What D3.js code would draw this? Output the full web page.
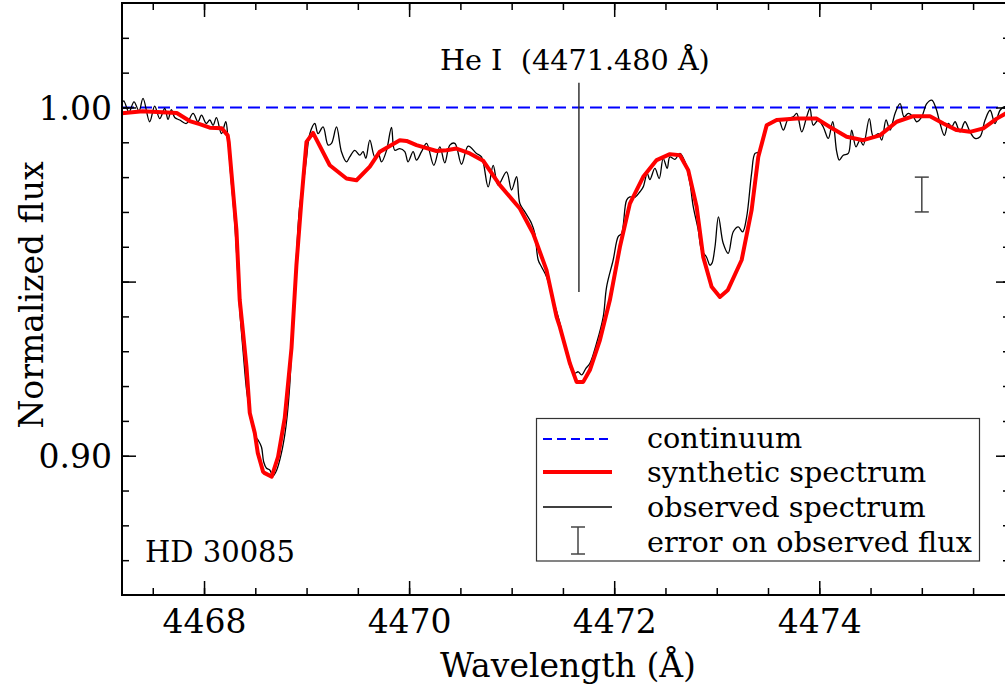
<!DOCTYPE html>
<html>
<head>
<meta charset="utf-8">
<script src="https://cdn.jsdelivr.net/npm/d3@7"></script>
<style>
  html, body { margin: 0; padding: 0; background: #fff; }
  svg { display: block; font-family: "DejaVu Serif", serif; }
</style>
</head>
<body>
<svg id="chart" width="1005" height="690"></svg>
<script>
// ---------------- DATA ----------------
const synWavelength = [4467.197,4467.402,4467.734,4467.860,4467.958,4468.056,4468.173,4468.231,4468.241,4468.316,4468.348,4468.378,4468.414,4468.446,4468.495,4468.524,4468.576,4468.592,4468.660,4468.722,4468.787,4468.853,4468.901,4468.950,4468.999,4469.063,4469.226,4469.389,4469.487,4469.617,4469.714,4469.909,4469.975,4470.072,4470.267,4470.365,4470.462,4470.592,4470.722,4470.885,4471.080,4471.210,4471.340,4471.438,4471.470,4471.568,4471.633,4471.698,4471.763,4471.861,4471.958,4472.056,4472.153,4472.283,4472.414,4472.543,4472.641,4472.722,4472.804,4472.868,4472.950,4473.031,4473.109,4473.243,4473.340,4473.405,4473.487,4473.584,4473.780,4473.975,4474.104,4474.267,4474.429,4474.591,4474.755,4474.917,4475.080,4475.210,4475.340,4475.470,4475.600,4475.731,4475.860];
const synFlux = [0.9983,0.9989,0.9984,0.9961,0.9952,0.9942,0.9940,0.9920,0.9901,0.9648,0.9447,0.9361,0.9255,0.9123,0.9065,0.9008,0.8954,0.8950,0.8940,0.8997,0.9108,0.9309,0.9547,0.9734,0.9901,0.9927,0.9834,0.9796,0.9791,0.9830,0.9873,0.9906,0.9904,0.9892,0.9875,0.9877,0.9882,0.9868,0.9847,0.9777,0.9710,0.9638,0.9533,0.9399,0.9370,0.9265,0.9212,0.9212,0.9246,0.9332,0.9447,0.9600,0.9724,0.9801,0.9849,0.9866,0.9863,0.9820,0.9715,0.9571,0.9485,0.9456,0.9476,0.9562,0.9705,0.9858,0.9949,0.9964,0.9968,0.9968,0.9944,0.9916,0.9906,0.9920,0.9959,0.9975,0.9975,0.9954,0.9935,0.9930,0.9940,0.9968,0.9990];

const obsWavelength = [4467.197,4467.217,4467.268,4467.317,4467.366,4467.405,4467.470,4467.519,4467.568,4467.617,4467.649,4467.682,4467.714,4467.763,4467.828,4467.893,4467.941,4467.975,4468.023,4468.056,4468.088,4468.121,4468.170,4468.212,4468.234,4468.260,4468.290,4468.319,4468.348,4468.380,4468.417,4468.446,4468.478,4468.504,4468.527,4468.560,4468.582,4468.609,4468.641,4468.673,4468.709,4468.755,4468.787,4468.810,4468.836,4468.856,4468.880,4468.904,4468.934,4468.966,4468.997,4469.032,4469.080,4469.112,4469.161,4469.210,4469.243,4469.292,4469.340,4469.389,4469.421,4469.470,4469.519,4469.551,4469.578,4469.617,4469.665,4469.698,4469.731,4469.780,4469.828,4469.860,4469.909,4469.958,4469.990,4470.039,4470.072,4470.121,4470.170,4470.241,4470.300,4470.348,4470.397,4470.446,4470.511,4470.576,4470.657,4470.706,4470.771,4470.820,4470.868,4470.950,4470.999,4471.048,4471.080,4471.129,4471.194,4471.226,4471.259,4471.292,4471.340,4471.405,4471.470,4471.536,4471.584,4471.617,4471.649,4471.682,4471.724,4471.763,4471.828,4471.893,4471.926,4471.990,4472.039,4472.072,4472.121,4472.153,4472.202,4472.251,4472.283,4472.322,4472.348,4472.397,4472.439,4472.478,4472.517,4472.543,4472.592,4472.641,4472.690,4472.739,4472.771,4472.820,4472.853,4472.901,4472.934,4472.954,4472.983,4473.017,4473.063,4473.112,4473.161,4473.210,4473.253,4473.292,4473.340,4473.373,4473.415,4473.456,4473.502,4473.551,4473.600,4473.649,4473.698,4473.746,4473.780,4473.829,4473.877,4473.909,4473.941,4473.990,4474.039,4474.088,4474.131,4474.170,4474.195,4474.234,4474.283,4474.316,4474.358,4474.397,4474.429,4474.488,4474.527,4474.576,4474.609,4474.651,4474.690,4474.739,4474.788,4474.827,4474.868,4474.917,4474.950,4474.999,4475.048,4475.097,4475.139,4475.178,4475.220,4475.259,4475.292,4475.324,4475.373,4475.421,4475.470,4475.519,4475.568,4475.617,4475.666,4475.714,4475.763,4475.812,4475.860];
const obsFlux = [1.0009,1.0019,0.9987,1.0016,0.9990,1.0026,0.9959,1.0004,0.9968,0.9997,0.9966,0.9994,0.9971,0.9964,0.9954,0.9983,0.9959,0.9978,0.9954,0.9964,0.9949,0.9971,0.9925,0.9959,0.9906,0.9806,0.9705,0.9576,0.9419,0.9303,0.9183,0.9131,0.9083,0.9054,0.9045,0.9025,0.8982,0.8964,0.8959,0.8942,0.8959,0.9008,0.9059,0.9112,0.9203,0.9318,0.9447,0.9590,0.9720,0.9777,0.9849,0.9925,0.9954,0.9925,0.9944,0.9892,0.9897,0.9944,0.9873,0.9844,0.9858,0.9877,0.9863,0.9873,0.9854,0.9906,0.9858,0.9868,0.9844,0.9877,0.9943,0.9877,0.9882,0.9873,0.9844,0.9873,0.9849,0.9873,0.9897,0.9834,0.9887,0.9841,0.9892,0.9897,0.9837,0.9889,0.9868,0.9858,0.9772,0.9834,0.9777,0.9815,0.9763,0.9801,0.9724,0.9700,0.9667,0.9638,0.9562,0.9542,0.9514,0.9447,0.9381,0.9295,0.9246,0.9237,0.9241,0.9232,0.9251,0.9265,0.9323,0.9399,0.9485,0.9562,0.9629,0.9638,0.9734,0.9743,0.9742,0.9758,0.9772,0.9811,0.9793,0.9825,0.9796,0.9854,0.9825,0.9858,0.9851,0.9868,0.9844,0.9782,0.9715,0.9648,0.9590,0.9570,0.9547,0.9553,0.9600,0.9686,0.9610,0.9581,0.9643,0.9657,0.9643,0.9686,0.9811,0.9868,0.9873,0.9920,0.9954,0.9959,0.9968,0.9935,0.9968,0.9973,0.9983,0.9930,0.9973,0.9997,0.9949,0.9964,0.9944,0.9911,0.9959,0.9873,0.9849,0.9863,0.9868,0.9935,0.9887,0.9906,0.9892,0.9968,0.9916,0.9925,0.9906,0.9964,0.9935,0.9983,1.0011,0.9973,0.9983,0.9973,0.9959,0.9973,1.0011,1.0021,0.9997,0.9954,0.9920,0.9954,0.9944,0.9959,0.9930,0.9959,0.9930,0.9911,0.9916,0.9964,0.9992,0.9954,0.9992,1.0002,0.9990];

const continuumFlux = 1.0;
const lineLabel = "He I  (4471.480 \u00C5)";
const lineWavelength = 4471.656;      // marker position (shifted)
const lineMarkerFlux = [0.947, 1.0071];
const errorBarWavelength = 4475.0;
const errorBarFlux = 0.975;
const errorBarHalf = 0.005;
const starName = "HD 30085";

const xMajorTicks = [4468, 4470, 4472, 4474];
const xMinorTicks = [4467.5,4468,4468.5,4469,4469.5,4470,4470.5,4471,4471.5,4472,4472.5,4473,4473.5,4474,4474.5,4475,4475.5];
const yMajorTicks = [0.90, 0.95, 1.00];
const yLabelTicks = [0.90, 1.00];
const yMinorTicks = [0.87,0.88,0.89,0.90,0.91,0.92,0.93,0.94,0.95,0.96,0.97,0.98,0.99,1.00,1.01,1.02];

const legendLabels = ["continuum", "synthetic spectrum", "observed spectrum", "error on observed flux"];

// ---------------- CHART ----------------
const svg = d3.select("#chart");
const L = 122, R = 1010, T = 3, B = 595;
const x = d3.scaleLinear().domain([4467.2, 4475.86]).range([L, R]);
const y = d3.scaleLinear().domain([0.86, 1.03]).range([B, T]);

svg.append("rect").attr("width", 1005).attr("height", 690).attr("fill", "#fff");

const defs = svg.append("defs");
defs.append("clipPath").attr("id", "clip")
  .append("rect").attr("x", L).attr("y", T).attr("width", R - L).attr("height", B - T);

const plot = svg.append("g").attr("clip-path", "url(#clip)");

// continuum
plot.append("line")
  .attr("x1", x(4467.2)).attr("x2", x(4475.86))
  .attr("y1", y(continuumFlux)).attr("y2", y(continuumFlux))
  .attr("stroke", "#0000ff").attr("stroke-width", 2).attr("stroke-dasharray", "12,6");

// observed spectrum
const obs = obsWavelength.map((w, i) => [w, obsFlux[i]]);
plot.append("path").datum(obs)
  .attr("d", d3.line().x(d => x(d[0])).y(d => y(d[1])).curve(d3.curveCatmullRom.alpha(0.5)))
  .attr("fill", "none").attr("stroke", "#000").attr("stroke-width", 1.3);

// synthetic spectrum
const syn = synWavelength.map((w, i) => [w, synFlux[i]]);
plot.append("path").datum(syn)
  .attr("d", d3.line().x(d => x(d[0])).y(d => y(d[1])))
  .attr("fill", "none").attr("stroke", "#ff0000").attr("stroke-width", 4)
  .attr("stroke-linejoin", "round");

// line marker
plot.append("line")
  .attr("x1", x(lineWavelength)).attr("x2", x(lineWavelength))
  .attr("y1", y(lineMarkerFlux[0])).attr("y2", y(lineMarkerFlux[1]))
  .attr("stroke", "#333").attr("stroke-width", 1.5);

svg.append("text")
  .attr("x", 440).attr("y", 70)
  .style("white-space", "pre")
  .attr("font-size", 28.7).attr("fill", "#000")
  .text(lineLabel);

// error bar
function errorBar(g, cx, y1, y2) {
  g.append("line").attr("x1", cx).attr("x2", cx).attr("y1", y1).attr("y2", y2);
  g.append("line").attr("x1", cx - 7).attr("x2", cx + 7).attr("y1", y1).attr("y2", y1);
  g.append("line").attr("x1", cx - 7).attr("x2", cx + 7).attr("y1", y2).attr("y2", y2);
}
const eb = plot.append("g").attr("stroke", "#444").attr("stroke-width", 1.5);
errorBar(eb, x(errorBarWavelength), y(errorBarFlux + errorBarHalf), y(errorBarFlux - errorBarHalf));

// star name
svg.append("text").attr("x", 145).attr("y", 562).attr("font-size", 29).text(starName);

// axes
function styleAxis(g) {
  g.select(".domain").remove();
  g.selectAll(".tick line").attr("stroke", "#000").attr("stroke-width", 1.5);
  g.selectAll("text").attr("font-family", "DejaVu Serif").attr("fill", "#000");
}
const fmt = d3.format(".2f");

svg.append("g").attr("transform", `translate(0,${B})`)
  .call(d3.axisBottom(x).tickValues(xMinorTicks).tickSizeInner(-7).tickSizeOuter(0).tickFormat(""))
  .call(styleAxis);
svg.append("g").attr("transform", `translate(0,${B})`)
  .call(d3.axisBottom(x).tickValues(xMajorTicks).tickSizeInner(-14).tickSizeOuter(0).tickPadding(15).tickFormat(d3.format("d")))
  .call(styleAxis)
  .call(g => g.selectAll("text").attr("font-size", 33));
svg.append("g").attr("transform", `translate(0,${T})`)
  .call(d3.axisTop(x).tickValues(xMinorTicks).tickSizeInner(-7).tickSizeOuter(0).tickFormat(""))
  .call(styleAxis);
svg.append("g").attr("transform", `translate(0,${T})`)
  .call(d3.axisTop(x).tickValues(xMajorTicks).tickSizeInner(-14).tickSizeOuter(0).tickFormat(""))
  .call(styleAxis);

svg.append("g").attr("transform", `translate(${L},0)`)
  .call(d3.axisLeft(y).tickValues(yMinorTicks).tickSizeInner(-7).tickSizeOuter(0).tickFormat(""))
  .call(styleAxis);
svg.append("g").attr("transform", `translate(${L},0)`)
  .call(d3.axisLeft(y).tickValues(yMajorTicks).tickSizeInner(-14).tickSizeOuter(0).tickPadding(10)
    .tickFormat(d => yLabelTicks.some(v => Math.abs(v - d) < 1e-9) ? fmt(d) : ""))
  .call(styleAxis)
  .call(g => g.selectAll("text").attr("font-size", 33).attr("dy", "0.36em"));
svg.append("g").attr("transform", `translate(${R},0)`)
  .call(d3.axisRight(y).tickValues(yMinorTicks).tickSizeInner(-7).tickSizeOuter(0).tickFormat(""))
  .call(styleAxis);
svg.append("g").attr("transform", `translate(${R},0)`)
  .call(d3.axisRight(y).tickValues(yMajorTicks).tickSizeInner(-14).tickSizeOuter(0).tickFormat(""))
  .call(styleAxis);

// frame
svg.append("rect").attr("x", L).attr("y", T).attr("width", R - L).attr("height", B - T)
  .attr("fill", "none").attr("stroke", "#000").attr("stroke-width", 2);

// axis titles
svg.append("text").attr("x", 568).attr("y", 677).attr("text-anchor", "middle")
  .attr("font-size", 33).text("Wavelength (\u00C5)");
svg.append("text").attr("transform", "translate(43,295) rotate(-90)").attr("text-anchor", "middle")
  .attr("font-size", 33).text("Normalized flux");

// legend
const lg = svg.append("g");
lg.append("rect").attr("x", 536.5).attr("y", 418.5).attr("width", 443).attr("height", 142.5)
  .attr("fill", "#fff").attr("stroke", "#333").attr("stroke-width", 1.2);
const rowY = [439, 472, 507, 540];
const baseY = [448, 482, 517, 552];
lg.append("line").attr("x1", 543).attr("x2", 612).attr("y1", rowY[0]).attr("y2", rowY[0])
  .attr("stroke", "#0000ff").attr("stroke-width", 2).attr("stroke-dasharray", "9,5");
lg.append("line").attr("x1", 543).attr("x2", 612).attr("y1", rowY[1]).attr("y2", rowY[1])
  .attr("stroke", "#ff0000").attr("stroke-width", 4);
lg.append("line").attr("x1", 543).attr("x2", 612).attr("y1", rowY[2]).attr("y2", rowY[2])
  .attr("stroke", "#000").attr("stroke-width", 1.3);
const leb = lg.append("g").attr("stroke", "#444").attr("stroke-width", 1.5);
errorBar(leb, 578, 527, 554);
legendLabels.forEach((t, i) => {
  lg.append("text").attr("x", 647).attr("y", baseY[i]).attr("font-size", 28.7).text(t);
});
</script>
</body>
</html>
